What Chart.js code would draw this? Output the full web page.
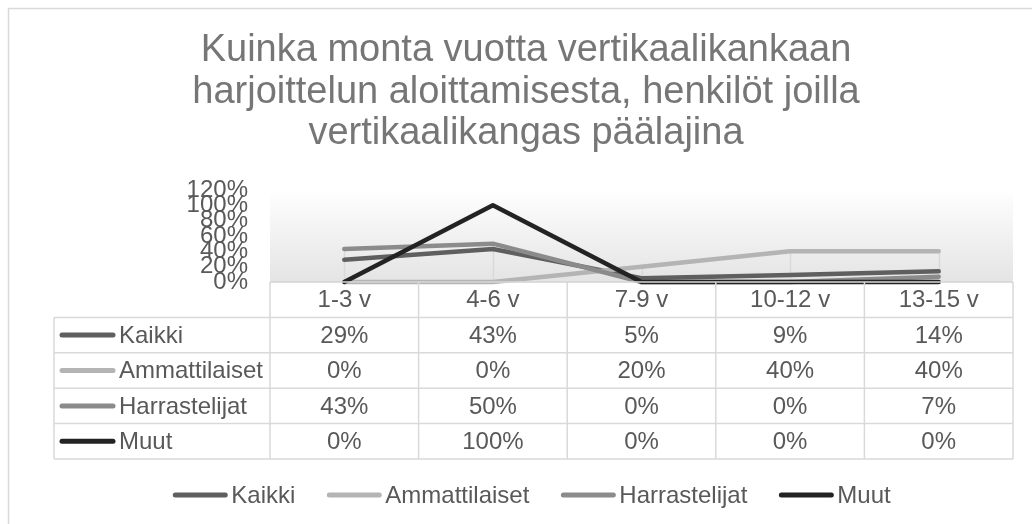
<html lang="fi">
<head>
  <meta charset="UTF-8">
  <title>Vertikaalikangas</title>
  <script src="https://cdn.jsdelivr.net/npm/chart.js"></script>
  <style>
    body, html {
      margin: 0;
      padding: 0;
      background-color: #ffffff;
    }
    #wrap {
      width: 1032px;
      height: 524px;
    }
  </style>
</head>
<body>
  <div id="wrap"><canvas id="myChart" width="1032" height="524"></canvas></div>

  <script>
    // data
    const categories = ['1-3 v', '4-6 v', '7-9 v', '10-12 v', '13-15 v'];
    const seriesNames = ['Kaikki', 'Ammattilaiset', 'Harrastelijat', 'Muut'];
    const kaikki = [29, 43, 5, 9, 14];
    const ammattilaiset = [0, 0, 20, 40, 40];
    const harrastelijat = [43, 50, 0, 0, 7];
    const muut = [0, 100, 0, 0, 0];
    const yTicks = [0, 20, 40, 60, 80, 100, 120];
    const titleLines = [
      'Kuinka monta vuotta vertikaalikankaan',
      'harjoittelun aloittamisesta, henkilöt joilla',
      'vertikaalikangas päälajina'
    ];

    const seriesValues = [kaikki, ammattilaiset, harrastelijat, muut];
    const seriesColors = ['#5f5f5f', '#b4b4b4', '#8b8b8b', '#232323'];
    const textColor = '#595959';
    const gridColor = '#d9d9d9';
    const FONT = '"Liberation Sans", Arial, sans-serif';

    // frame + plot background
    const backdrop = {
      id: 'backdrop',
      beforeDraw(chart) {
        const { ctx, chartArea } = chart;
        ctx.save();
        ctx.strokeStyle = gridColor;
        ctx.lineWidth = 1.5;
        ctx.strokeRect(8.5, 8.5, 1200, 700);
        const g = ctx.createLinearGradient(0, chartArea.top, 0, chartArea.bottom);
        g.addColorStop(0, '#ffffff');
        g.addColorStop(0.12, '#fbfbfb');
        g.addColorStop(1, '#e4e4e4');
        ctx.fillStyle = g;
        ctx.fillRect(chartArea.left, chartArea.top, chartArea.right - chartArea.left, chartArea.bottom - chartArea.top);
        ctx.restore();
      }
    };

    // drop lines from the first chart group down to the axis
    const dropLines = {
      id: 'dropLines',
      beforeDatasetsDraw(chart) {
        const { ctx } = chart;
        const x = chart.scales.x, y = chart.scales.y;
        ctx.save();
        ctx.strokeStyle = gridColor;
        ctx.lineWidth = 1.5;
        categories.forEach((c, i) => {
          let top = 0;
          chart.data.datasets.forEach(ds => {
            if (ds.dropLine) top = Math.max(top, ds.data[i]);
          });
          const px = Math.round(x.getPixelForValue(i)) + 0.5;
          ctx.beginPath();
          ctx.moveTo(px, y.getPixelForValue(0));
          ctx.lineTo(px, y.getPixelForValue(top));
          ctx.stroke();
        });
        ctx.restore();
      }
    };

    // data table under the plot + legend at the bottom
    const dataTable = {
      id: 'dataTable',
      afterDraw(chart) {
        const { ctx } = chart;
        const x = chart.scales.x;
        const tableLeft = 54;
        const top = chart.chartArea.bottom;
        const rowH = 35.4;
        const band = (x.right - x.left) / categories.length;
        const nRows = seriesNames.length + 1;

        ctx.save();
        ctx.strokeStyle = gridColor;
        ctx.lineWidth = 1.5;
        // horizontal rules
        for (let r = 0; r <= nRows; r++) {
          const yy = top + r * rowH;
          ctx.beginPath();
          ctx.moveTo(r < 1 ? x.left : tableLeft, yy);
          ctx.lineTo(x.right, yy);
          ctx.stroke();
        }
        // vertical rules
        ctx.beginPath();
        ctx.moveTo(tableLeft, top + rowH);
        ctx.lineTo(tableLeft, top + nRows * rowH);
        ctx.stroke();
        for (let c = 0; c <= categories.length; c++) {
          const xx = x.left + c * band;
          ctx.beginPath();
          ctx.moveTo(xx, top);
          ctx.lineTo(xx, top + nRows * rowH);
          ctx.stroke();
        }

        ctx.fillStyle = textColor;
        ctx.font = '24px ' + FONT;
        ctx.textBaseline = 'middle';
        ctx.textAlign = 'center';
        categories.forEach((c, i) => {
          ctx.fillText(c, x.getPixelForValue(i), top + rowH / 2 + 1);
        });
        seriesNames.forEach((name, s) => {
          const cy = top + (s + 1.5) * rowH + 1;
          ctx.strokeStyle = seriesColors[s];
          ctx.lineWidth = 5;
          ctx.lineCap = 'round';
          ctx.beginPath();
          ctx.moveTo(62, cy - 1);
          ctx.lineTo(113, cy - 1);
          ctx.stroke();
          ctx.textAlign = 'left';
          ctx.fillText(name, 119, cy);
          ctx.textAlign = 'center';
          seriesValues[s].forEach((v, i) => {
            ctx.fillText(v + '%', x.getPixelForValue(i), cy);
          });
        });

        // legend
        const keyW = 54, gap = 4, spacing = 32;
        const widths = seriesNames.map(n => keyW + gap + ctx.measureText(n).width);
        const total = widths.reduce((a, b) => a + b, 0) + spacing * (seriesNames.length - 1);
        let lx = chart.width / 2 + 16 - total / 2;
        const ly = 495;
        ctx.textAlign = 'left';
        seriesNames.forEach((name, s) => {
          ctx.strokeStyle = seriesColors[s];
          ctx.lineWidth = 5;
          ctx.beginPath();
          ctx.moveTo(lx + 2, ly);
          ctx.lineTo(lx + keyW - 2, ly);
          ctx.stroke();
          ctx.fillText(name, lx + keyW + gap, ly + 1);
          lx += widths[s] + spacing;
        });
        ctx.restore();
      }
    };

    const datasets = seriesNames.map((name, s) => ({
      label: name,
      data: seriesValues[s],
      borderColor: seriesColors[s],
      backgroundColor: seriesColors[s],
      borderWidth: 4.5,
      borderCapStyle: 'round',
      borderJoinStyle: 'round',
      pointRadius: 0,
      tension: 0,
      clip: false,
      dropLine: s < 3,
      order: seriesNames.length - s
    }));

    const ctx = document.getElementById('myChart').getContext('2d');
    const myChart = new Chart(ctx, {
      type: 'line',
      data: { labels: categories, datasets: datasets },
      options: {
        responsive: false,
        animation: false,
        layout: {
          padding: { top: 20, left: 39, right: 19, bottom: 242 }
        },
        scales: {
          x: {
            display: false,
            offset: true
          },
          y: {
            min: yTicks[0],
            max: yTicks[yTicks.length - 1],
            afterBuildTicks(scale) {
              scale.ticks = yTicks.map(v => ({ value: v }));
            },
            afterFit(scale) {
              scale.width = 231;
            },
            ticks: {
              autoSkip: false,
              padding: 22,
              color: textColor,
              font: { family: FONT, size: 24 },
              callback: v => v + '%'
            },
            grid: {
              drawTicks: false,
              color: c => (c.tick && c.tick.value === 0 ? gridColor : 'rgba(0,0,0,0)'),
              lineWidth: 1.5
            },
            border: { display: false }
          }
        },
        plugins: {
          legend: { display: false },
          tooltip: { enabled: false },
          title: {
            display: true,
            text: titleLines,
            color: '#767676',
            font: { family: FONT, size: 38, weight: 'normal', lineHeight: '41.5px' },
            padding: { top: 10.25, bottom: 35.25 }
          }
        }
      },
      plugins: [backdrop, dropLines, dataTable]
    });
  </script>
</body>
</html>
